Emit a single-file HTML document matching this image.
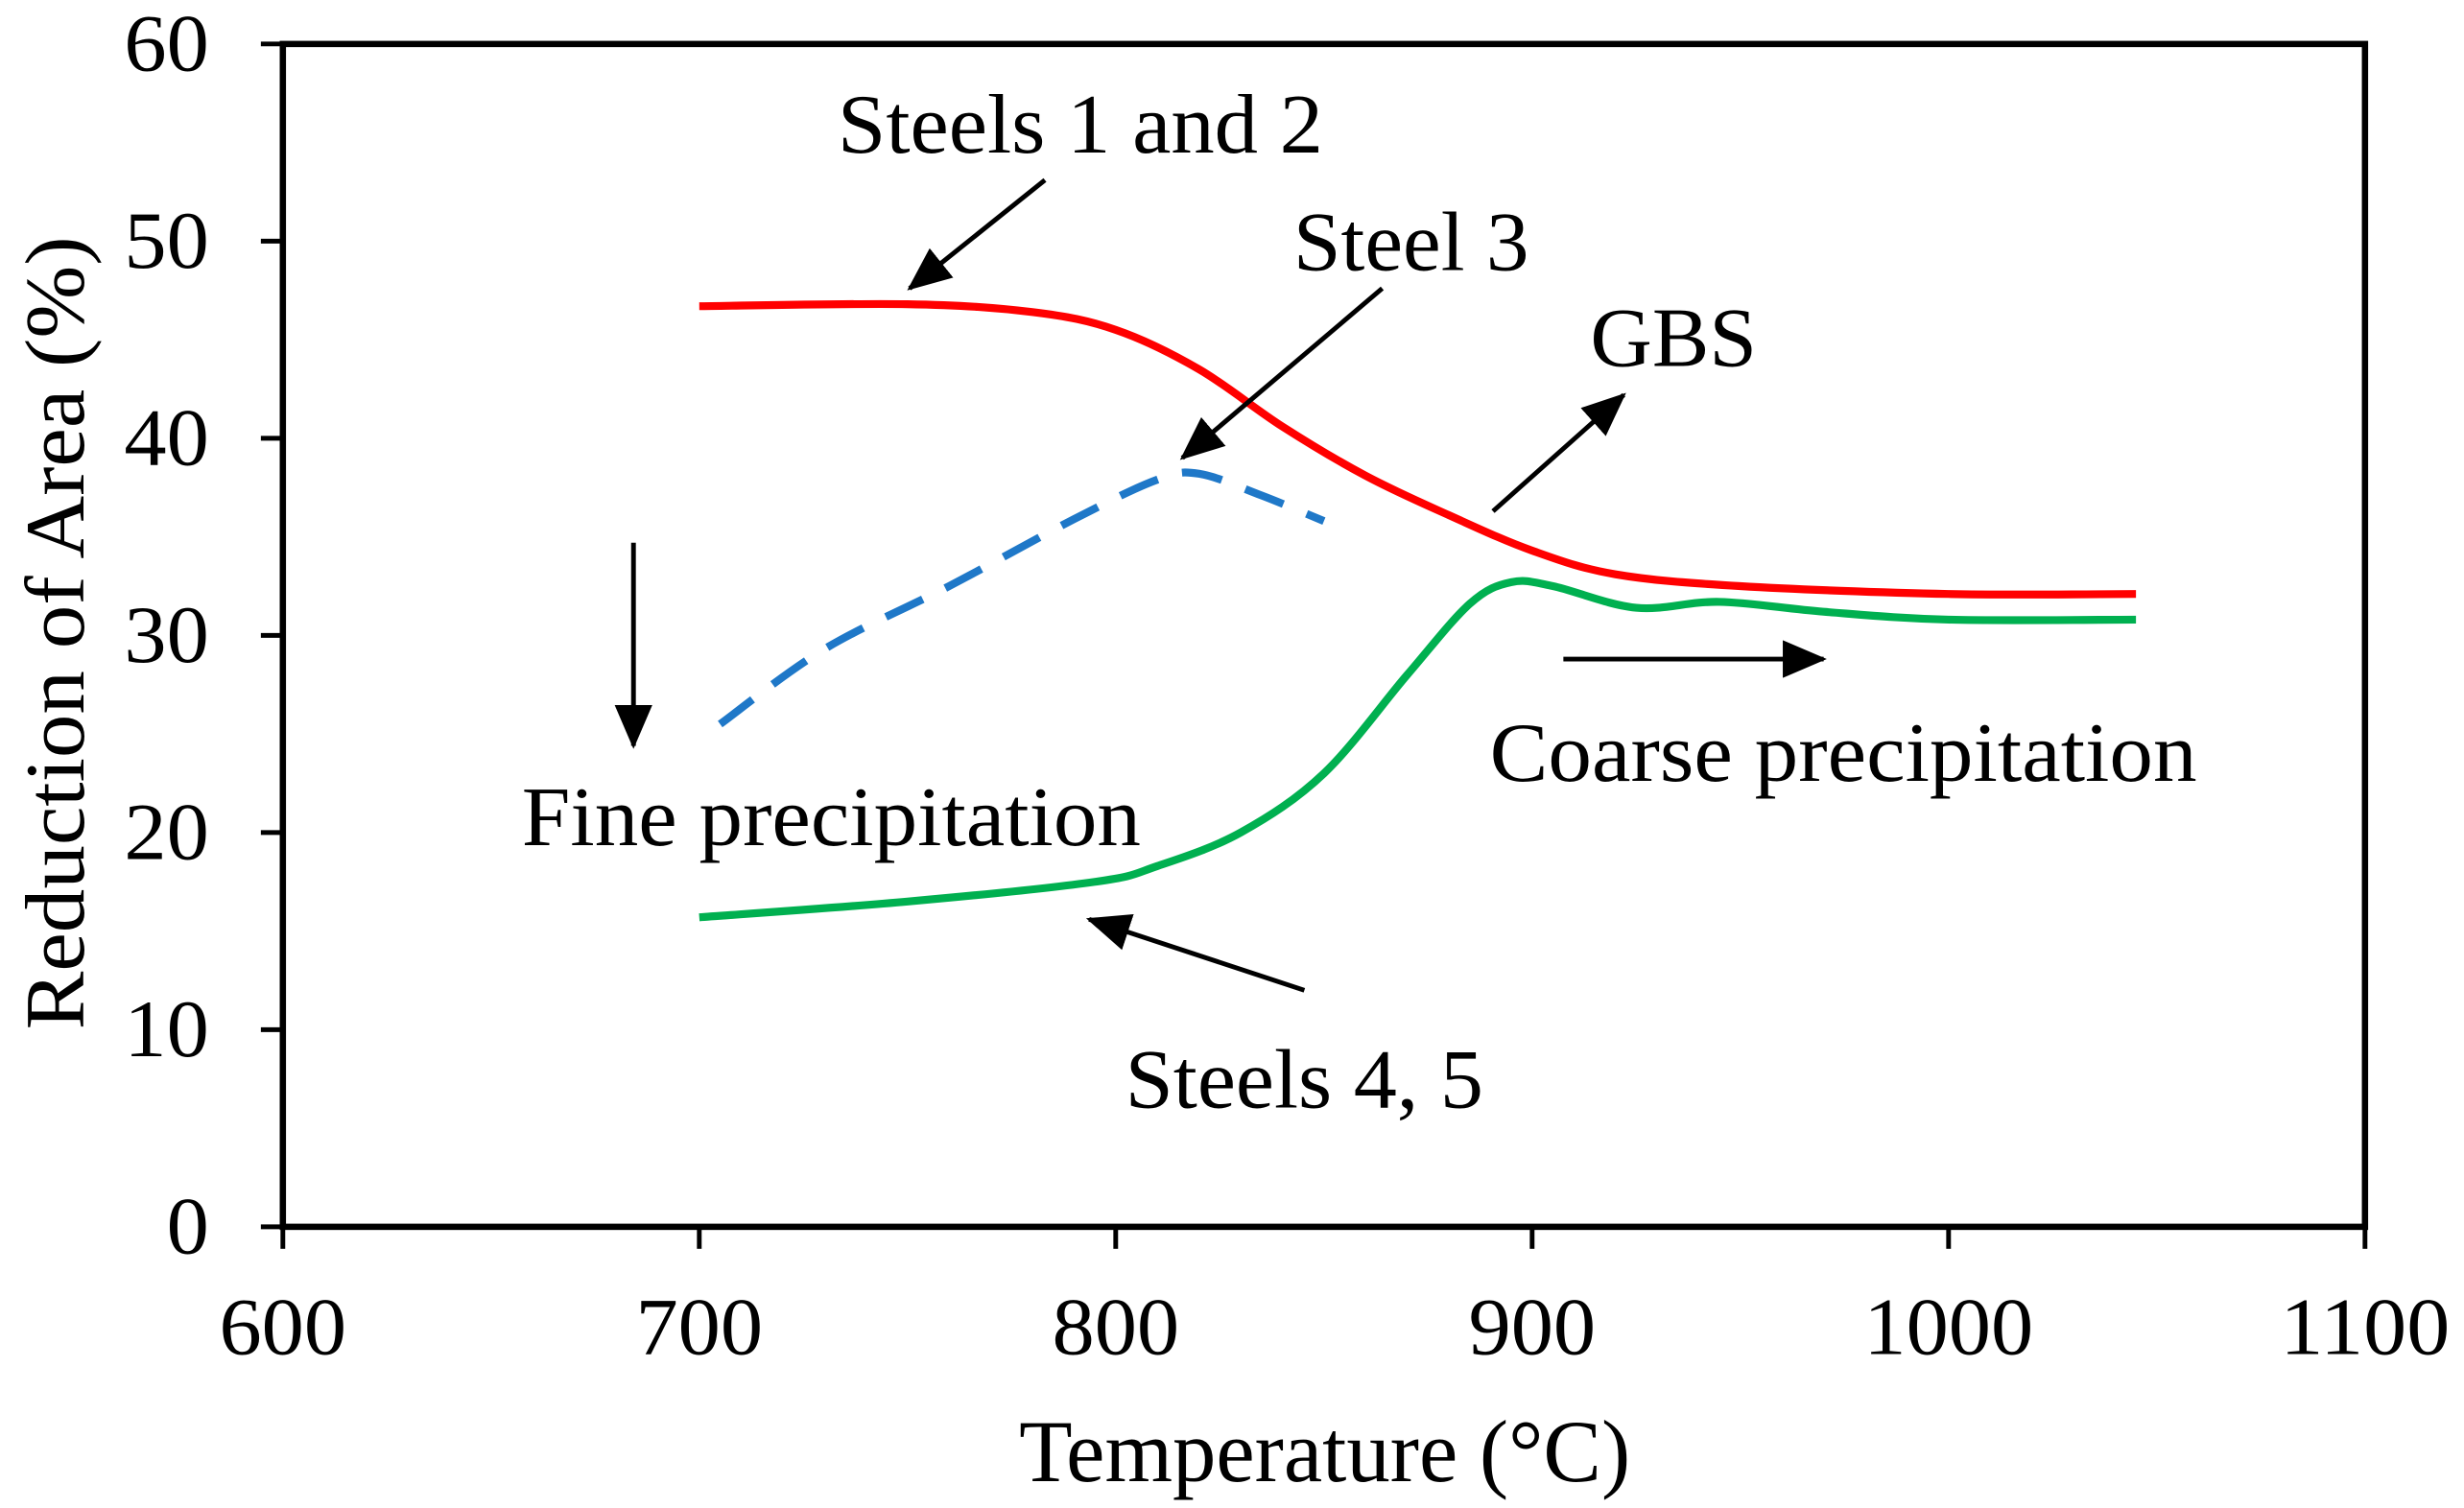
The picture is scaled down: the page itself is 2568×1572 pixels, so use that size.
<!DOCTYPE html>
<html><head><meta charset="utf-8"><style>
html,body{margin:0;padding:0;background:#fff;}
svg{display:block;}
text{font-family:"Liberation Serif",serif;fill:#000;}
</style></head><body>
<svg id="chart" width="2568" height="1572" viewBox="0 0 1568 960" preserveAspectRatio="none" xmlns="http://www.w3.org/2000/svg">
<defs>
<marker id="ah2" markerWidth="28" markerHeight="24" refX="26" refY="12" orient="auto" markerUnits="userSpaceOnUse"><path d="M0,0 L28,12 L0,24 z" fill="#000"/></marker></defs>
<g id="g"></g>
</svg>
<script>
const xTicks=[600,700,800,900,1000,1100];
const yTicks=[0,10,20,30,40,50,60];
const redT=[700,750,780,800,820,840,860,880,900,920,950,1000,1045];
const redV=[46.7,46.8,46.4,45.5,43.5,40.6,38.1,36.1,34.3,33.1,32.5,32.1,32.1];
const blueT=[705,730,760,790,810,820,835,850];
const blueV=[25.5,29.3,32.5,35.9,37.9,38.2,37.1,35.8];
const greenT=[700,750,795,810,830,850,870,885,895,905,925,945,970,1000,1045];
const greenV=[15.7,16.5,17.5,18.3,20.0,23.0,28.0,31.6,32.7,32.5,31.4,31.7,31.2,30.8,30.8];
const L=180,R=1505,T=28,B=781;
const sx=v=>L+(v-600)/500*(R-L);
const sy=v=>B-(v/60)*(B-T);
const g=document.getElementById('g');
const NS='http://www.w3.org/2000/svg';
function mk(tag,attrs,parent){const e=document.createElementNS(NS,tag);for(const k in attrs)e.setAttribute(k,attrs[k]);(parent||g).appendChild(e);return e;}
function smooth(xs,ys){const p=xs.map((x,i)=>[sx(x),sy(ys[i])]);let d='M'+p[0][0]+','+p[0][1];
for(let i=0;i<p.length-1;i++){const p0=p[i-1]||p[i],p1=p[i],p2=p[i+1],p3=p[i+2]||p2;
d+=` C${p1[0]+(p2[0]-p0[0])/6},${p1[1]+(p2[1]-p0[1])/6} ${p2[0]-(p3[0]-p1[0])/6},${p2[1]-(p3[1]-p1[1])/6} ${p2[0]},${p2[1]}`;}return d;}
let e=mk('rect',{x:L,y:T,width:R-L,height:B-T,fill:'none',stroke:'#000','stroke-width':4});

xTicks.forEach(t=>{let l=mk('line',{x1:sx(t),x2:sx(t),y1:B,y2:B+14,stroke:'#000','stroke-width':3});

const s=String(t);
let tx=mk('text',{x:sx(t),y:862,'font-size':52,'text-anchor':'middle',textLength:s.length*27,lengthAdjust:'spacingAndGlyphs'});tx.textContent=s;
});
yTicks.forEach(t=>{let l=mk('line',{x1:L-14,x2:L,y1:sy(t),y2:sy(t),stroke:'#000','stroke-width':3});

const s=String(t);
let tx=mk('text',{x:133,y:sy(t)+17,'font-size':52,'text-anchor':'end',textLength:s.length*27,lengthAdjust:'spacingAndGlyphs'});tx.textContent=s;
});
let xt=mk('text',{x:843,y:943,'font-size':56,'text-anchor':'middle',textLength:389,lengthAdjust:'spacingAndGlyphs'});xt.textContent='Temperature (°C)';

let yt=mk('text',{x:0,y:0,'font-size':54,'text-anchor':'middle',textLength:505,lengthAdjust:'spacingAndGlyphs',transform:'translate(53,403) rotate(-90)'});yt.textContent='Reduction of Area (%)';

let r=mk('path',{d:smooth(redT,redV),fill:'none',stroke:'#ff0000','stroke-width':5});

let b=mk('path',{d:smooth(blueT,blueV),fill:'none',stroke:'#1f78c8','stroke-width':5,'stroke-dasharray':'26,16'});

let gr=mk('path',{d:smooth(greenT,greenV),fill:'none',stroke:'#00b050','stroke-width':5});

const arrows=[[783,53.1,750.5,47.6,'steels-1-2-arrow'],[864,47.6,816,39.0,'steel-3-arrow'],[890.6,36.3,922,42.2,'gbs-arrow'],[684.2,34.7,684.2,24.4,'fine-precipitation-arrow'],[907.5,28.8,970,28.8,'coarse-precipitation-arrow'],[845.3,12.0,793.6,15.6,'steels-4-5-arrow']];
arrows.forEach(a=>{let l=mk('line',{x1:sx(a[0]),y1:sy(a[1]),x2:sx(a[2]),y2:sy(a[3]),stroke:'#000','stroke-width':3,'marker-end':'url(#ah2)'});
});
const labels=[[533,97,'Steels 1 and 2','steels-1-2-label',309],[823,172,'Steel 3','steel-3-label',150],[1012,233,'GBS','gbs-label',106],[332,538,'Fine precipitation','fine-precipitation-label',394],[948,497,'Coarse precipitation','coarse-precipitation-label',450],[716,705,'Steels 4, 5','steels-4-5-label',228]];
labels.forEach(a=>{let t=mk('text',{x:a[0],y:a[1],'font-size':54,textLength:a[4],lengthAdjust:'spacingAndGlyphs'});t.textContent=a[2];
});
</script>
</body></html>
